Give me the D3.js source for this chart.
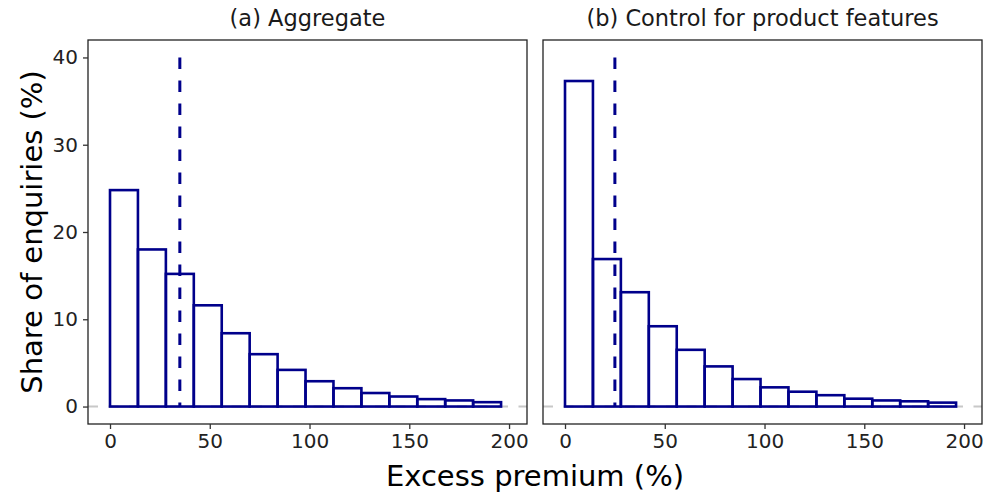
<!DOCTYPE html>
<html>
<head>
<meta charset="utf-8">
<script src="https://cdn.jsdelivr.net/npm/d3@7"></script>
<style>
  body { margin: 0; background: #fff; }
  svg { font-family: "DejaVu Sans", sans-serif; }
</style>
</head>
<body>
<svg width="987" height="493"></svg>
<script>
// bins of excess premium (%), width 14
var binStarts = [0, 14, 28, 42, 56, 70, 84, 98, 112, 126, 140, 154, 168, 182];
var binWidth = 14;
var aggregateShare = [24.8, 18.0, 15.2, 11.6, 8.4, 6.0, 4.2, 2.9, 2.1, 1.55, 1.15, 0.85, 0.7, 0.5];
var controlShare = [37.3, 16.9, 13.1, 9.2, 6.5, 4.6, 3.15, 2.2, 1.7, 1.3, 0.9, 0.7, 0.6, 0.45];
var medians = [35, 25];
var titles = ["(a) Aggregate", "(b) Control for product features"];
var xTicks = [0, 50, 100, 150, 200];
var yTicks = [0, 10, 20, 30, 40];

var svg = d3.select("svg");
var plotTop = 40, plotBottom = 424;
var panels = [
  {x0: 88, x1: 527, data: aggregateShare, med: medians[0], title: titles[0]},
  {x0: 543, x1: 982, data: controlShare, med: medians[1], title: titles[1]}
];
var navy = "#00008b";

var y = d3.scaleLinear().domain([-2, 42]).range([plotBottom, plotTop]);

panels.forEach(function(p, i) {
  var x = d3.scaleLinear().domain([-11.03, 209]).range([p.x0, p.x1]);
  var g = svg.append("g");

  // zero reference line
  g.append("line")
    .attr("x1", p.x0).attr("x2", p.x1)
    .attr("y1", y(0)).attr("y2", y(0))
    .attr("stroke", "#c8c8c8").attr("stroke-width", 2)
    .attr("stroke-dasharray", "10,10.5");

  g.selectAll("rect.bar")
    .data(p.data)
    .enter().append("rect")
    .attr("class", "bar")
    .attr("x", function(d, j) { return x(binStarts[j]); })
    .attr("width", function(d, j) { return x(binStarts[j] + binWidth) - x(binStarts[j]); })
    .attr("y", function(d) { return y(d); })
    .attr("height", function(d) { return y(0) - y(d); })
    .attr("fill", "none")
    .attr("stroke", navy)
    .attr("stroke-width", 2.6);

  g.append("line")
    .attr("x1", x(p.med)).attr("x2", x(p.med))
    .attr("y1", y(40)).attr("y2", y(0))
    .attr("stroke", navy).attr("stroke-width", 3)
    .attr("stroke-dasharray", "11.5,11.5");

  // panel border
  g.append("rect")
    .attr("x", p.x0).attr("y", plotTop)
    .attr("width", p.x1 - p.x0).attr("height", plotBottom - plotTop)
    .attr("fill", "none").attr("stroke", "#222").attr("stroke-width", 1.3);

  var xAxis = g.append("g")
    .attr("transform", "translate(0," + plotBottom + ")")
    .call(d3.axisBottom(x).tickValues(xTicks).tickSize(5).tickPadding(5));
  xAxis.select(".domain").remove();
  xAxis.selectAll("line").attr("stroke", "#333").attr("stroke-width", 1.3);
  xAxis.selectAll("text").attr("font-size", "20px").attr("fill", "#222")
    .attr("font-family", "DejaVu Sans");

  if (i === 0) {
    var yAxis = g.append("g")
      .attr("transform", "translate(" + p.x0 + ",0)")
      .call(d3.axisLeft(y).tickValues(yTicks).tickSize(5).tickPadding(5));
    yAxis.select(".domain").remove();
    yAxis.selectAll("line").attr("stroke", "#333").attr("stroke-width", 1.3);
    yAxis.selectAll("text").attr("font-size", "20px").attr("fill", "#222")
      .attr("font-family", "DejaVu Sans");
  }

  g.append("text")
    .attr("x", (p.x0 + p.x1) / 2).attr("y", 26)
    .attr("text-anchor", "middle")
    .attr("font-size", "22.5px").attr("fill", "#1a1a1a")
    .text(p.title);
});

svg.append("text")
  .attr("x", 535).attr("y", 486)
  .attr("text-anchor", "middle")
  .attr("font-size", "29px").attr("fill", "#000")
  .text("Excess premium (%)");

svg.append("text")
  .attr("transform", "translate(42," + ((plotTop + plotBottom) / 2) + ") rotate(-90)")
  .attr("text-anchor", "middle")
  .attr("font-size", "29px").attr("fill", "#000")
  .text("Share of enquiries (%)");
</script>
</body>
</html>
